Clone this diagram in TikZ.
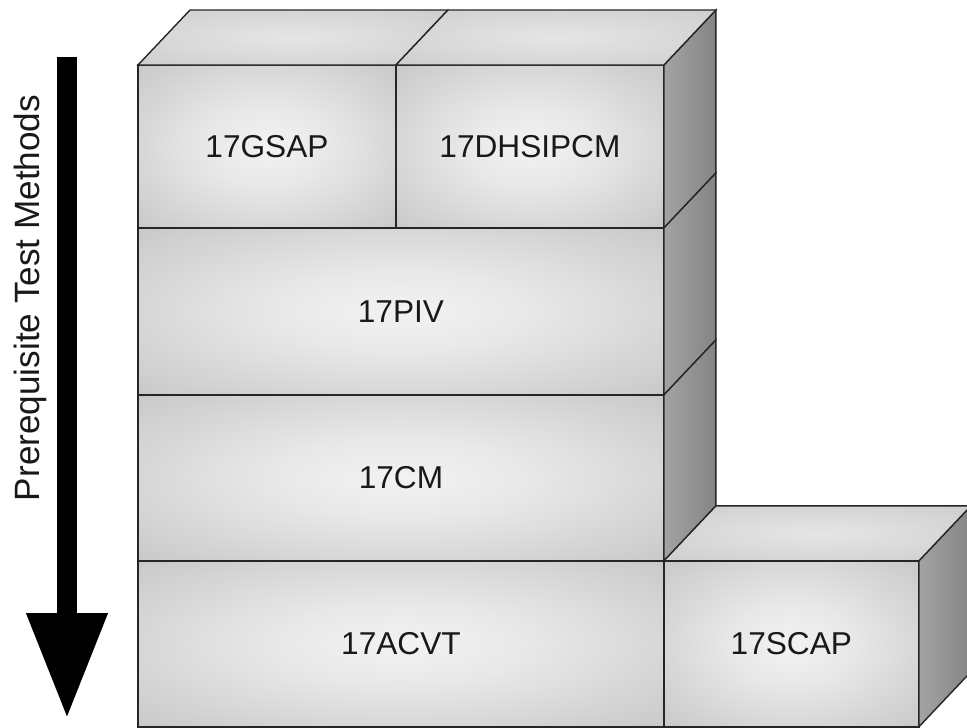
\documentclass[tikz,border=0pt]{standalone}
\usepackage{fontspec}
\setmainfont{Liberation Sans}
\usetikzlibrary{arrows.meta,positioning,calc}

% soft radial fills for the block faces
\pgfdeclareradialshading{frontglow}{\pgfpoint{0bp}{0bp}}{%
  color(0bp)=(black!5); color(12bp)=(black!9); color(50bp)=(black!29); color(72bp)=(black!37)}
\pgfdeclareradialshading{topglow}{\pgfpoint{0bp}{0bp}}{%
  color(0bp)=(black!10); color(50bp)=(black!23); color(72bp)=(black!29)}

\begin{document}
\begin{tikzpicture}[
    x=0.02cm, y=-0.02cm,
    % --- Face styles ---
    face/.style={draw=black!85, line width=0.8pt},
    front/.style={face, shading=frontglow, inner sep=0pt, outer sep=0pt, anchor=north west,
      font=\fontsize{18}{21}\selectfont, text=black!90},
    topface/.style={face, shading=topglow},
    sideface/.style={face, left color=black!36, right color=black!48},
    % --- Arrow style ---
    order/.style={line width=0.4cm, -{Triangle[width=1.52cm, length=2.12cm]}},
]
\useasboundingbox (0,0) rectangle (967,727);

% === Front faces ===
\node[front, minimum width=5.16cm, minimum height=3.26cm] (gsap) at (138,65) {17GSAP};
\node[front, minimum width=5.36cm, minimum height=3.26cm, right=0pt of gsap] (dhsipcm) {17DHSIPCM};
\node[front, minimum width=10.52cm, minimum height=3.34cm, below=0pt of gsap.south west, anchor=north west] (piv) {17PIV};
\node[front, minimum width=10.52cm, minimum height=3.32cm, below=0pt of piv.south west, anchor=north west] (cm) {17CM};
\node[front, minimum width=10.52cm, minimum height=3.32cm, below=0pt of cm.south west, anchor=north west] (acvt) {17ACVT};
\node[front, minimum width=5.1cm, minimum height=3.32cm, right=0pt of acvt] (scap) {17SCAP};

% === Side faces of the column ===
\draw[sideface] (dhsipcm.north east) -- ++(52,-55) -- ($(dhsipcm.south east)+(52,-55)$) -- (dhsipcm.south east) -- cycle;
\draw[sideface] (piv.north east) -- ++(52,-55) -- ($(piv.south east)+(52,-55)$) -- (piv.south east) -- cycle;
\draw[sideface] (cm.north east) -- ++(52,-55) -- ($(cm.south east)+(52,-55)$) -- (cm.south east) -- cycle;
\draw[sideface] (scap.north east) -- ++(52,-55) -- ($(scap.south east)+(52,-55)$) -- (scap.south east) -- cycle;

% === Top faces ===
\draw[topface] (gsap.north west) -- (gsap.north east) -- ++(52,-55) -- ($(gsap.north west)+(52,-55)$) -- cycle;
\draw[topface] (dhsipcm.north west) -- (dhsipcm.north east) -- ++(52,-55) -- ($(dhsipcm.north west)+(52,-55)$) -- cycle;
\draw[topface] (scap.north west) -- (scap.north east) -- ++(52,-55) -- ($(scap.north west)+(52,-55)$) -- cycle;

% === Order arrow ===
\coordinate (arrtop) at (67,57);
\coordinate (arrtip) at (67,719);
\draw[order] (arrtop) -- (arrtip);
\node[rotate=90, font=\fontsize{20}{24}\selectfont, text=black!90] (title) at (30,298) {Prerequisite Test Methods};

\end{tikzpicture}
\end{document}
